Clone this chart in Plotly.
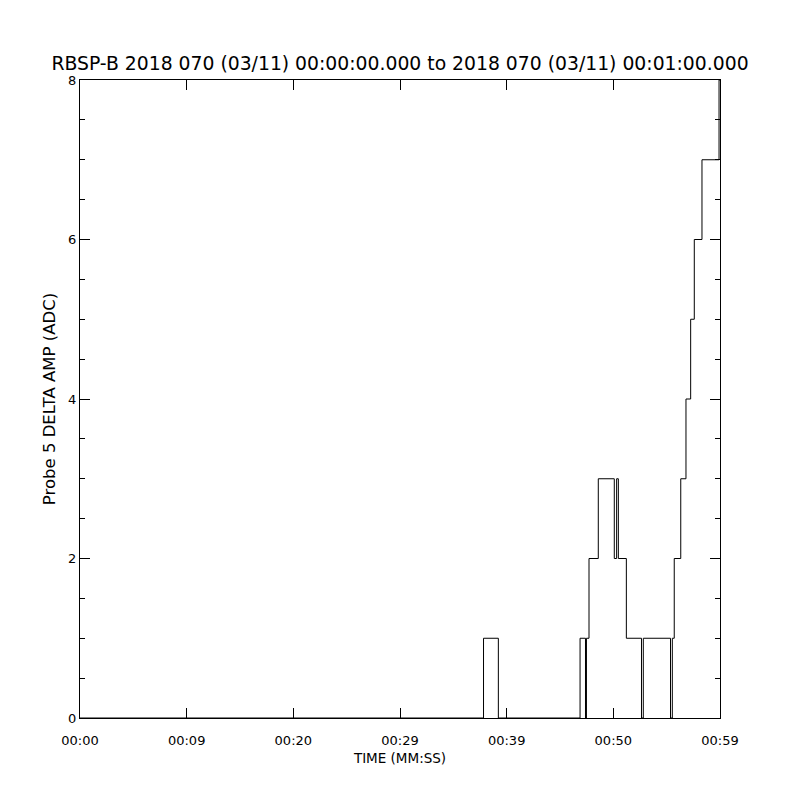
import plotly.graph_objects as go

# Step transitions: time (s) at which value changes, and the new value
times = [0.0, 37.83, 39.22, 46.88, 47.39, 47.48, 47.72, 48.59, 50.09, 50.31, 50.47,
         51.22, 52.64, 52.81, 55.36, 55.53, 55.71, 56.32, 56.81, 57.25, 57.59,
         58.31, 59.91, 60.0]
values = [0, 1, 0, 1, 0, 1, 2, 3, 2, 3, 2,
          1, 0, 1, 0, 1, 2, 3, 4, 5, 6,
          7, 8, 8]

x_tick_vals = [0, 10, 20, 30, 40, 50, 60]
x_tick_text = ["00:00", "00:09", "00:20", "00:29", "00:39", "00:50", "00:59"]
y_tick_vals = [0, 2, 4, 6, 8]

title_text = "RBSP-B 2018 070 (03/11) 00:00:00.000 to 2018 070 (03/11) 00:01:00.000"

FONT = "DejaVu Sans"

fig = go.Figure()
fig.add_trace(go.Scatter(
    x=times, y=values, mode="lines", line=dict(color="black", width=1, shape="hv"),
    showlegend=False, hoverinfo="skip"))

fig.update_layout(
    width=800, height=800,
    paper_bgcolor="white", plot_bgcolor="white",
    margin=dict(l=72, r=88, t=72, b=90, autoexpand=False),
    font=dict(family=FONT, color="black"),
    title=dict(text=title_text, x=(400 - 8) / 800, xanchor="center", y=1 - 55 / 800,
               yanchor="middle", yref="container",
               font=dict(family=FONT, size=18.8, color="black")),
)

fig.update_xaxes(
    range=[0, 60], showgrid=False, zeroline=False,
    showline=True, linecolor="black", linewidth=1, mirror="ticks",
    ticks="inside", ticklen=10, tickwidth=1, tickcolor="black",
    tickvals=x_tick_vals, ticktext=x_tick_text,
    tickfont=dict(family=FONT, size=13, color="black"),
    ticklabelstandoff=10,
    title=dict(text="TIME (MM:SS)", font=dict(family=FONT, size=13.5, color="black"),
               standoff=6),
)
fig.update_yaxes(
    range=[0, 8], showgrid=False, zeroline=False,
    showline=True, linecolor="black", linewidth=1, mirror="ticks",
    ticks="inside", ticklen=10, tickwidth=1, tickcolor="black",
    tickvals=y_tick_vals,
    tickfont=dict(family=FONT, size=13, color="black"),
    ticklabelstandoff=0,
    minor=dict(dtick=0.5, ticks="inside", ticklen=5, tickwidth=1, tickcolor="black",
               showgrid=False),
    title=dict(text="Probe 5 DELTA AMP (ADC)", font=dict(family=FONT, size=16.5, color="black"),
               standoff=8),
)

fig.write_html("out.html")
